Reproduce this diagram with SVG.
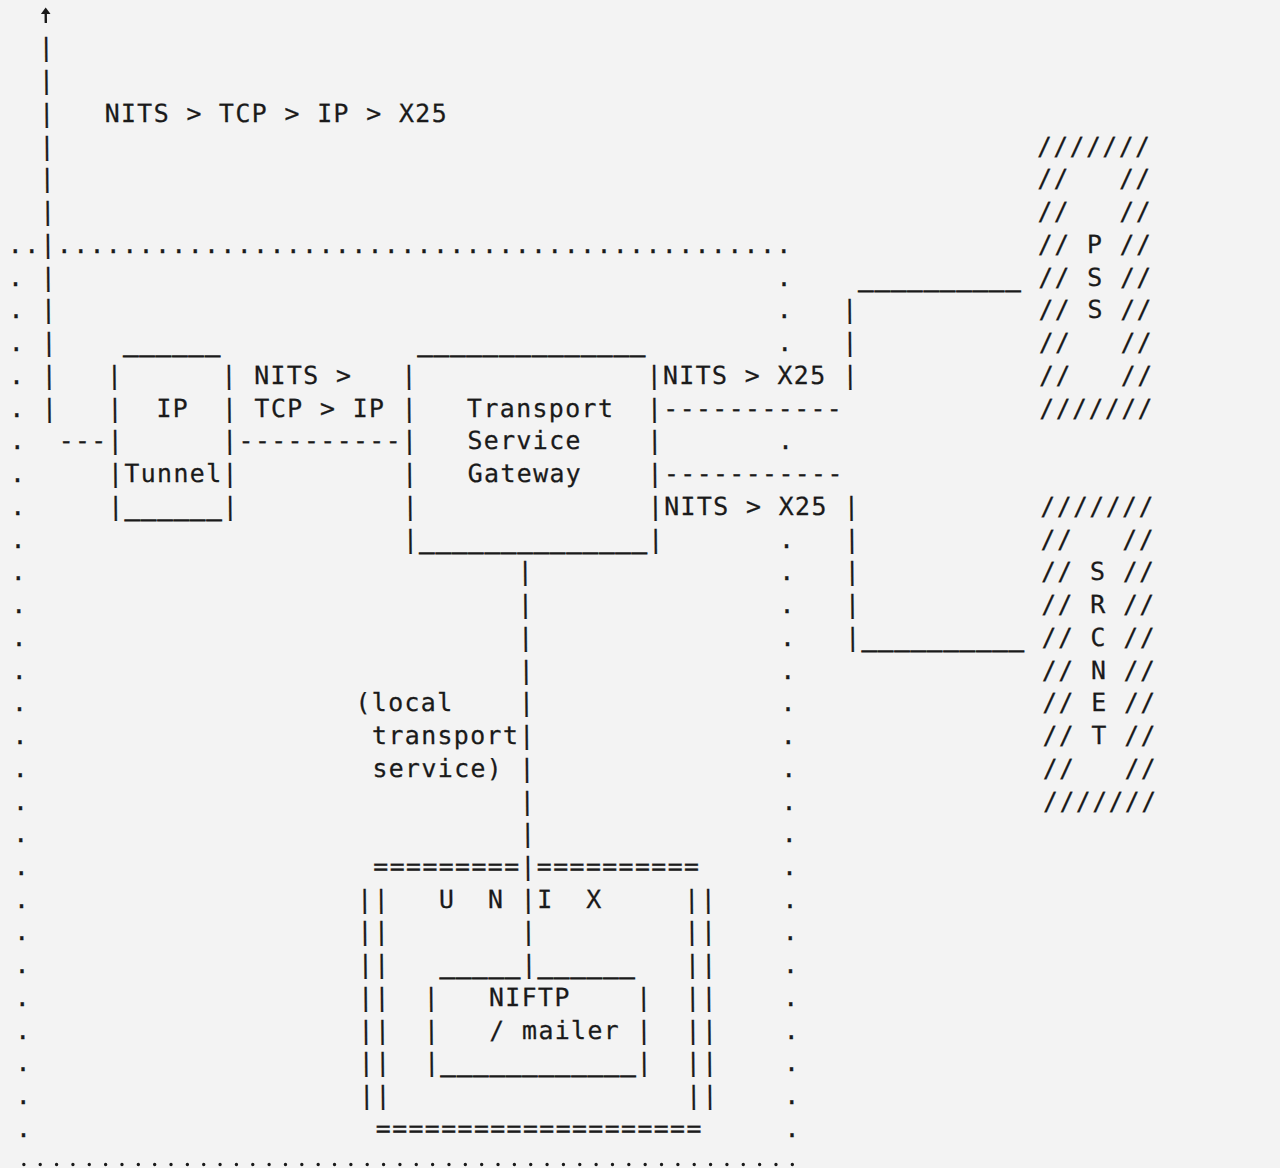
<svg xmlns="http://www.w3.org/2000/svg" width="1280" height="1168" viewBox="0 0 1280 1168" xml:space="preserve">
<style>
.t { font-family: "DejaVu Sans Mono", "Liberation Mono", monospace; font-size: 25px; letter-spacing: 1.3px; fill: #1a1a1a; stroke: #1a1a1a; stroke-width: 0.25; white-space: pre; }
.u { stroke-width: 1.1; }
.shaft { stroke: #1a1a1a; stroke-width: 2.4; fill: none; }
.head { fill: #1a1a1a; stroke: none; }
.dots { stroke: #1a1a1a; stroke-width: 3.4; stroke-linecap: round; stroke-dasharray: 0 16.35; fill: none; }
</style>
<rect x="0" y="0" width="1280" height="1168" fill="#f3f3f3"/>
<g transform="skewX(0.54)">
  <g id="connectors">
    <!-- upward line from IP tunnel -->
    <path class="shaft" d="M45.6,23 V12"/>
    <path class="head" d="M40.8,14 L45.6,7.5 L50.4,14 Z"/>
    <text class="t"><tspan x="38.1" y="56.5">|</tspan><tspan x="38.1" y="89.3">|</tspan><tspan x="38.1" y="122.0">|</tspan><tspan x="38.1" y="154.8">|</tspan><tspan x="38.1" y="187.5">|</tspan><tspan x="38.1" y="220.2">|</tspan><tspan x="38.1" y="253.0">|</tspan><tspan x="38.1" y="285.7">|</tspan><tspan x="38.1" y="318.5">|</tspan><tspan x="38.1" y="351.2">|</tspan><tspan x="38.1" y="383.9">|</tspan><tspan x="38.1" y="416.7">|</tspan></text>
    <text class="t" x="54.45" y="449.4">---</text>
    <!-- dotted boundary -->
    <text class="t" x="5.4" y="253.0">..</text>
    <text class="t" x="54.45" y="253.0">.............................................</text>
    <text class="t"><tspan x="5.4" y="285.7">.</tspan><tspan x="5.4" y="318.5">.</tspan><tspan x="5.4" y="351.2">.</tspan><tspan x="5.4" y="383.9">.</tspan><tspan x="5.4" y="416.7">.</tspan><tspan x="5.4" y="449.4">.</tspan><tspan x="5.4" y="482.2">.</tspan><tspan x="5.4" y="514.9">.</tspan><tspan x="5.4" y="547.6">.</tspan><tspan x="5.4" y="580.4">.</tspan><tspan x="5.4" y="613.1">.</tspan><tspan x="5.4" y="645.9">.</tspan><tspan x="5.4" y="678.6">.</tspan><tspan x="5.4" y="711.3">.</tspan><tspan x="5.4" y="744.1">.</tspan><tspan x="5.4" y="776.8">.</tspan><tspan x="5.4" y="809.6">.</tspan><tspan x="5.4" y="842.3">.</tspan><tspan x="5.4" y="875.0">.</tspan><tspan x="5.4" y="907.8">.</tspan><tspan x="5.4" y="940.5">.</tspan><tspan x="5.4" y="973.3">.</tspan><tspan x="5.4" y="1006.0">.</tspan><tspan x="5.4" y="1038.7">.</tspan><tspan x="5.4" y="1071.5">.</tspan><tspan x="5.4" y="1104.2">.</tspan><tspan x="5.4" y="1137.0">.</tspan></text>
    <text class="t"><tspan x="773.85" y="285.7">.</tspan><tspan x="773.85" y="318.5">.</tspan><tspan x="773.85" y="351.2">.</tspan><tspan x="773.85" y="449.4">.</tspan><tspan x="773.85" y="547.6">.</tspan><tspan x="773.85" y="580.4">.</tspan><tspan x="773.85" y="613.1">.</tspan><tspan x="773.85" y="645.9">.</tspan><tspan x="773.85" y="678.6">.</tspan><tspan x="773.85" y="711.3">.</tspan><tspan x="773.85" y="744.1">.</tspan><tspan x="773.85" y="776.8">.</tspan><tspan x="773.85" y="809.6">.</tspan><tspan x="773.85" y="842.3">.</tspan><tspan x="773.85" y="875.0">.</tspan><tspan x="773.85" y="907.8">.</tspan><tspan x="773.85" y="940.5">.</tspan><tspan x="773.85" y="973.3">.</tspan><tspan x="773.85" y="1006.0">.</tspan><tspan x="773.85" y="1038.7">.</tspan><tspan x="773.85" y="1071.5">.</tspan><tspan x="773.85" y="1104.2">.</tspan><tspan x="773.85" y="1137.0">.</tspan></text>
    <path class="dots" d="M12.9,1164.5 H782"/>
    <!-- IP tunnel to gateway -->
    <text class="t" x="234.3" y="449.4">----------</text>
    <!-- gateway to PSS / SRCNET -->
    <text class="t" x="659.4" y="416.7">-----------</text>
    <text class="t" x="659.4" y="482.2">-----------</text>
    <text class="t u" x="855.6" y="285.7">__________</text>
    <text class="t"><tspan x="839.25" y="318.5">|</tspan><tspan x="839.25" y="351.2">|</tspan><tspan x="839.25" y="383.9">|</tspan></text>
    <text class="t"><tspan x="839.25" y="514.9">|</tspan><tspan x="839.25" y="547.6">|</tspan><tspan x="839.25" y="580.4">|</tspan><tspan x="839.25" y="613.1">|</tspan><tspan x="839.25" y="645.9">|</tspan></text>
    <text class="t u" x="855.6" y="645.9">__________</text>
    <!-- gateway down to UNIX / NIFTP -->
    <text class="t"><tspan x="512.25" y="580.4">|</tspan><tspan x="512.25" y="613.1">|</tspan><tspan x="512.25" y="645.9">|</tspan><tspan x="512.25" y="678.6">|</tspan><tspan x="512.25" y="711.3">|</tspan><tspan x="512.25" y="744.1">|</tspan><tspan x="512.25" y="776.8">|</tspan><tspan x="512.25" y="809.6">|</tspan><tspan x="512.25" y="842.3">|</tspan><tspan x="512.25" y="875.0">|</tspan><tspan x="512.25" y="907.8">|</tspan><tspan x="512.25" y="940.5">|</tspan><tspan x="512.25" y="973.3">|</tspan></text>
  </g>

  <g id="label-nits-tcp-ip-x25">
    <text class="t" x="103.5" y="122.0">NITS &gt; TCP &gt; IP &gt; X25</text>
  </g>

  <g id="ip-tunnel">
    <text class="t u" x="119.85" y="351.2">______</text>
    <text class="t"><tspan x="103.5" y="383.9">|</tspan><tspan x="103.5" y="416.7">|</tspan><tspan x="103.5" y="449.4">|</tspan></text>
    <text class="t"><tspan x="217.95" y="383.9">|</tspan><tspan x="217.95" y="416.7">|</tspan><tspan x="217.95" y="449.4">|</tspan></text>
    <text class="t" x="152.55" y="416.7">IP</text>
    <text class="t" x="103.5" y="482.2">|Tunnel|</text>
    <text class="t" x="103.5" y="514.9">|</text>
    <text class="t u" x="119.85" y="514.9">______</text>
    <text class="t" x="217.95" y="514.9">|</text>
  </g>

  <g id="label-nits-tcp-ip">
    <text class="t" x="250.65" y="383.9">NITS &gt;</text>
    <text class="t" x="250.65" y="416.7">TCP &gt; IP</text>
  </g>

  <g id="transport-service-gateway">
    <text class="t u" x="414.15" y="351.2">______________</text>
    <text class="t"><tspan x="397.8" y="383.9">|</tspan><tspan x="397.8" y="416.7">|</tspan><tspan x="397.8" y="449.4">|</tspan><tspan x="397.8" y="482.2">|</tspan><tspan x="397.8" y="514.9">|</tspan><tspan x="397.8" y="547.6">|</tspan></text>
    <text class="t"><tspan x="643.05" y="383.9">|</tspan><tspan x="643.05" y="416.7">|</tspan><tspan x="643.05" y="449.4">|</tspan><tspan x="643.05" y="482.2">|</tspan><tspan x="643.05" y="514.9">|</tspan><tspan x="643.05" y="547.6">|</tspan></text>
    <text class="t" x="463.2" y="416.7">Transport</text>
    <text class="t" x="463.2" y="449.4">Service</text>
    <text class="t" x="463.2" y="482.2">Gateway</text>
    <text class="t u" x="414.15" y="547.6">______________</text>
  </g>

  <g id="label-nits-x25-pss">
    <text class="t" x="659.4" y="383.9">NITS &gt; X25</text>
  </g>
  <g id="label-nits-x25-srcnet">
    <text class="t" x="659.4" y="514.9">NITS &gt; X25</text>
  </g>

  <g id="pss">
    <text class="t" x="1035.45" y="154.8">///////</text>
    <text class="t" x="1035.45" y="187.5">//   //</text>
    <text class="t" x="1035.45" y="220.2">//   //</text>
    <text class="t" x="1035.45" y="253.0">// P //</text>
    <text class="t" x="1035.45" y="285.7">// S //</text>
    <text class="t" x="1035.45" y="318.5">// S //</text>
    <text class="t" x="1035.45" y="351.2">//   //</text>
    <text class="t" x="1035.45" y="383.9">//   //</text>
    <text class="t" x="1035.45" y="416.7">///////</text>
  </g>

  <g id="srcnet">
    <text class="t" x="1035.45" y="514.9">///////</text>
    <text class="t" x="1035.45" y="547.6">//   //</text>
    <text class="t" x="1035.45" y="580.4">// S //</text>
    <text class="t" x="1035.45" y="613.1">// R //</text>
    <text class="t" x="1035.45" y="645.9">// C //</text>
    <text class="t" x="1035.45" y="678.6">// N //</text>
    <text class="t" x="1035.45" y="711.3">// E //</text>
    <text class="t" x="1035.45" y="744.1">// T //</text>
    <text class="t" x="1035.45" y="776.8">//   //</text>
    <text class="t" x="1035.45" y="809.6">///////</text>
  </g>

  <g id="label-local-transport-service">
    <text class="t" x="348.75" y="711.3">(local</text>
    <text class="t" x="365.1" y="744.1">transport</text>
    <text class="t" x="365.1" y="776.8">service)</text>
  </g>

  <g id="unix">
    <text class="t" x="365.1" y="875.0">=========</text>
    <text class="t" x="528.6" y="875.0">==========</text>
    <text class="t"><tspan x="348.75" y="907.8">||</tspan><tspan x="348.75" y="940.5">||</tspan><tspan x="348.75" y="973.3">||</tspan><tspan x="348.75" y="1006.0">||</tspan><tspan x="348.75" y="1038.7">||</tspan><tspan x="348.75" y="1071.5">||</tspan><tspan x="348.75" y="1104.2">||</tspan></text>
    <text class="t"><tspan x="675.75" y="907.8">||</tspan><tspan x="675.75" y="940.5">||</tspan><tspan x="675.75" y="973.3">||</tspan><tspan x="675.75" y="1006.0">||</tspan><tspan x="675.75" y="1038.7">||</tspan><tspan x="675.75" y="1071.5">||</tspan><tspan x="675.75" y="1104.2">||</tspan></text>
    <text class="t" x="430.5" y="907.8">U</text>
    <text class="t" x="479.55" y="907.8">N</text>
    <text class="t" x="528.6" y="907.8">I</text>
    <text class="t" x="577.65" y="907.8">X</text>
    <text class="t" x="365.1" y="1137.0">====================</text>
  </g>

  <g id="niftp-mailer">
    <text class="t u" x="430.5" y="973.3">_____</text>
    <text class="t u" x="528.6" y="973.3">______</text>
    <text class="t"><tspan x="414.15" y="1006.0">|</tspan><tspan x="414.15" y="1038.7">|</tspan><tspan x="414.15" y="1071.5">|</tspan></text>
    <text class="t"><tspan x="626.7" y="1006.0">|</tspan><tspan x="626.7" y="1038.7">|</tspan><tspan x="626.7" y="1071.5">|</tspan></text>
    <text class="t" x="479.55" y="1006.0">NIFTP</text>
    <text class="t" x="479.55" y="1038.7">/ mailer</text>
    <text class="t u" x="430.5" y="1071.5">____________</text>
  </g>
</g>
</svg>
